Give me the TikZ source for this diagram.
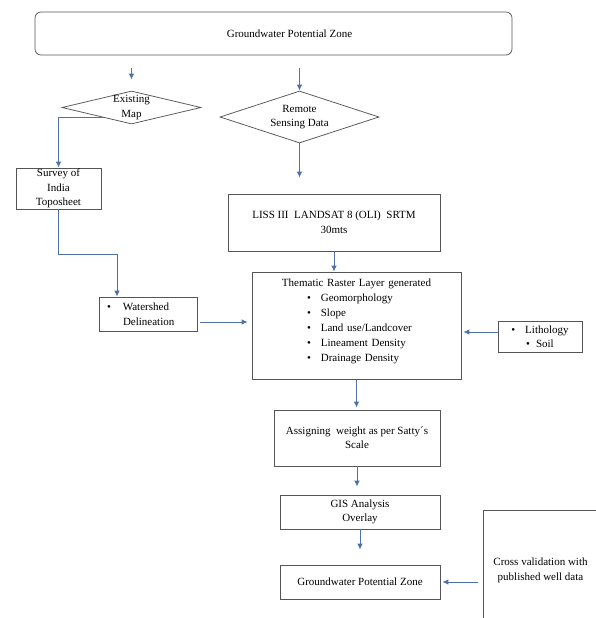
\documentclass[tikz,border=0pt]{standalone}
\usepackage{fontspec}
\setmainfont{Liberation Serif}
\usetikzlibrary{arrows.meta,shapes.geometric,calc}
\definecolor{linkblue}{RGB}{79,113,166}
\definecolor{edgegray}{RGB}{85,85,85}

\begin{document}
\begin{tikzpicture}[x=1pt,y=-1pt,->,>={Latex[length=6pt,width=5.5pt]},
    block node/.style={draw=edgegray,line width=0.75pt,inner sep=0pt,align=center,font=\fontsize{11pt}{15pt}\selectfont},
    choice node/.style={diamond,draw=edgegray,line width=0.75pt,inner sep=0pt},
    choice text/.style={align=center,font=\fontsize{11pt}{14.5pt}\selectfont},
    flow/.style={draw=linkblue,line width=0.9pt}]
    \path[use as bounding box,clip] (0,0) rectangle (596,618);
    % top and the two inputs
    \node[block node,rounded corners=6pt,minimum width=477pt,minimum height=43pt] (goal) at (273.5,33.5) {\hspace*{32pt}Groundwater Potential Zone};
    \node[choice node,minimum width=139pt,minimum height=33pt,label={[choice text]center:Existing\\Map}] (exist) at (131.5,107.5) {};
    \node[choice node,minimum width=159pt,minimum height=52pt,label={[choice text]center:Remote\\Sensing Data}] (sense) at (299.5,117) {};
    \node[block node,minimum width=85pt,minimum height=41pt,font=\fontsize{11pt}{14.5pt}\selectfont] (survey) at (58.5,188.5) {Survey of\\India\\Toposheet};
    \node[block node,text width=98pt,align=left,minimum height=34pt] (ws) at (148,314) {\hspace*{8pt}\textbullet\hspace{12pt}Watershed\\\hspace*{24pt}Delineation};
    \node[block node,minimum width=212pt,minimum height=57pt] (liss) at (334,222.5) {LISS III\ \ LANDSAT 8 (OLI)\ \ SRTM\\30mts};
    % raster layers
    \node[block node,text width=209pt,align=left,text height=14pt,text depth=93pt] (raster) at (356.5,325.5) {\makebox[\linewidth]{Thematic Raster Layer generated}\\
      \hspace*{55pt}\textbullet\hspace{10pt}Geomorphology\\
      \hspace*{55pt}\textbullet\hspace{10pt}Slope\\
      \hspace*{55pt}\textbullet\hspace{10pt}Land use/Landcover\\
      \hspace*{55pt}\textbullet\hspace{10pt}Lineament Density\\
      \hspace*{55pt}\textbullet\hspace{10pt}Drainage Density};
    \node[block node,minimum width=84pt,minimum height=31pt,font=\fontsize{11pt}{14pt}\selectfont] (lith) at (540,336.5) {\textbullet\hspace{10pt}Lithology\\\textbullet\hspace{6pt}Soil};
    % weighting and result
    \node[block node,minimum width=166pt,minimum height=56pt,font=\fontsize{11pt}{14pt}\selectfont] (assign) at (357,438) {Assigning\ \ weight as per Satty´s\\Scale};
    \node[block node,minimum width=160pt,minimum height=34pt,font=\fontsize{11pt}{14pt}\selectfont] (gis) at (360,512) {GIS Analysis\\Overlay};
    \node[block node,minimum width=160pt,minimum height=34pt] (final) at (360,582) {Groundwater Potential Zone};
    \node[block node,minimum width=115pt,text height=70.5pt,text depth=59.5pt] (check) at (540.5,575) {Cross validation with\\published well data};

    \draw[flow,shorten <=13pt,shorten >=11pt] (goal.south -| exist.north) -- (exist.north);
    \draw[flow,shorten <=13pt] (goal.south -| sense.north) -- (sense.north);
    \draw[flow] ($(exist.west)!0.6!(exist.south)$) -| (survey.north);
    \draw[flow] (survey.south) -- ++(0,45) -| ([xshift=-31pt]ws.north);
    \draw[flow,shorten <=3pt,shorten >=4pt] ([yshift=-8pt]ws.east) -- ([yshift=-8pt]ws.east -| raster.west);
    \draw[flow,shorten >=16pt] (sense.south) -- (sense.south |- liss.north);
    \draw[flow] (liss.south) -- (liss.south |- raster.north);
    \draw[flow,shorten >=2pt] ([yshift=4.5pt]lith.west) -- ([yshift=4.5pt]lith.west -| raster.east);
    \draw[flow,shorten >=2pt] (raster.south) -- (raster.south |- assign.north);
    \draw[flow,shorten >=8pt] (assign.south) -- (assign.south |- gis.north);
    \draw[flow,shorten >=15pt] (gis.south) -- (gis.south |- final.north);
    \draw[flow,shorten <=5pt,shorten >=2pt] (check.west |- final.east) -- (final.east);
\end{tikzpicture}
\end{document}
